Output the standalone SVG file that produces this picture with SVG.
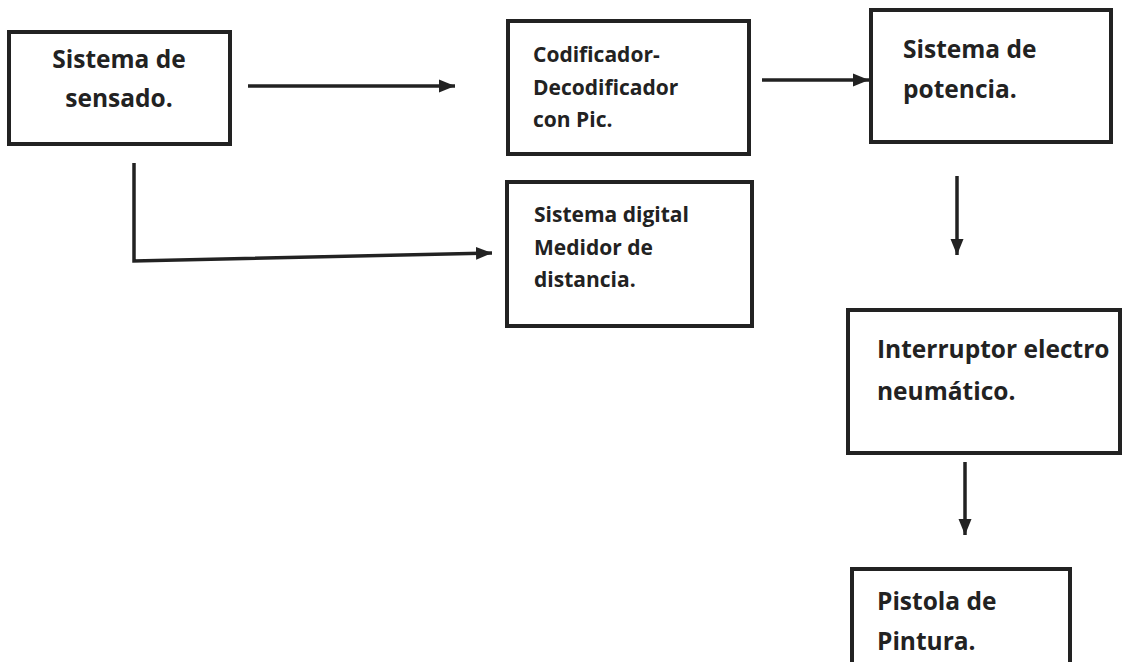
<svg xmlns="http://www.w3.org/2000/svg" width="1123" height="662" viewBox="0 0 1123 662">
<style>
.box{fill:#fff;stroke:#222;stroke-width:4}
.t1{font-family:"Open Sans",Lato,sans-serif;font-weight:bold;font-size:24.5px;fill:#222}
.t2{font-family:"Open Sans",Lato,sans-serif;font-weight:bold;font-size:21px;fill:#222}
.c{fill:none;stroke:#222;stroke-width:3.5}
</style>
<defs>
<marker id="ah" markerUnits="userSpaceOnUse" markerWidth="16" markerHeight="16" viewBox="0 0 16 16" refX="16" refY="8" orient="auto">
<path d="M0,1.5 L16,8 L0,14.5 Z" fill="#222"/>
</marker>
</defs>
<rect width="1123" height="662" fill="#fff"/>
<g id="n1">
<rect class="box" x="9" y="32" width="221" height="112"/>
<text class="t1" x="119" y="68" text-anchor="middle">Sistema de</text>
<text class="t1" x="119" y="107" text-anchor="middle">sensado.</text>
</g>
<g id="n2">
<rect class="box" x="508" y="21" width="241" height="133"/>
<text class="t2" x="533" y="62">Codificador-</text>
<text class="t2" x="533" y="95">Decodificador</text>
<text class="t2" x="533" y="127">con Pic.</text>
</g>
<g id="n3">
<rect class="box" x="507" y="182" width="245" height="144"/>
<text class="t2" x="534" y="222">Sistema digital</text>
<text class="t2" x="534" y="255">Medidor de</text>
<text class="t2" x="534" y="287">distancia.</text>
</g>
<g id="n4">
<rect class="box" x="871" y="10" width="240" height="132"/>
<text class="t1" x="903" y="58">Sistema de</text>
<text class="t1" x="903" y="98">potencia.</text>
</g>
<g id="n5">
<rect class="box" x="848" y="310" width="272" height="143"/>
<text class="t1" x="877" y="358">Interruptor electro</text>
<text class="t1" x="877" y="400">neumático.</text>
</g>
<g id="n6">
<rect class="box" x="852" y="569" width="218" height="96"/>
<text class="t1" x="877" y="610">Pistola de</text>
<text class="t1" x="877" y="650">Pintura.</text>
</g>
<g id="connectors">
<path class="c" d="M248,86 L455,86" marker-end="url(#ah)"/>
<path class="c" d="M134,163 L134,261 L492,253" marker-end="url(#ah)"/>
<path class="c" d="M762,80 L869,80" marker-end="url(#ah)"/>
<path class="c" d="M957,176 L957,255" marker-end="url(#ah)"/>
<path class="c" d="M965,462 L965,535" marker-end="url(#ah)"/>
</g>
</svg>
